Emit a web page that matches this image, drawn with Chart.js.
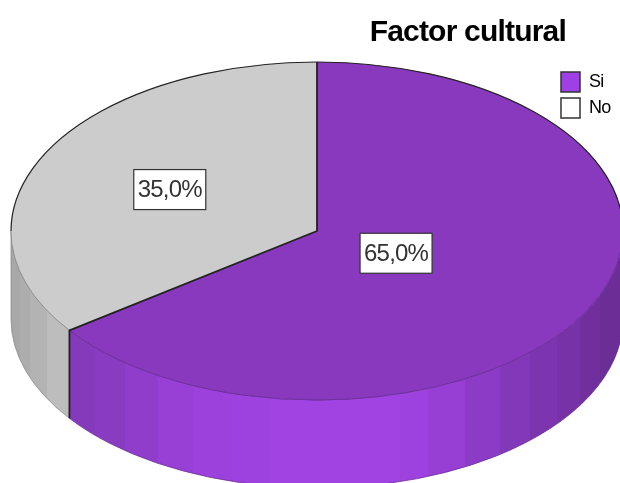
<!DOCTYPE html>
<html>
<head>
<meta charset="utf-8">
<style>
  html, body { margin: 0; padding: 0; background: #fff; }
  canvas { display: block; }
</style>
<script src="https://cdn.jsdelivr.net/npm/chart.js@4"></script>
</head>
<body>
<canvas id="pie" width="620" height="483"></canvas>
<script>
const categories = ["Si", "No"];
const values = [65, 35];
const chartTitle = "Factor cultural";

const topColors = ["#8839bd", "#cccccc"];
const swatchColors = ["#9f40e6", "#ffffff"];
const font = "Liberation Sans, Arial, sans-serif";

// Ellipse of the top face, and how far the side wall drops below it
const pie = { cx: 317, cy: 231, rx: 306, ry: 169, depth: 88 };

// How far out along the slice the percent box sits (0 centre, 1 rim)
const labelReach = [0.29, 0.54];

// Side wall shading, [from x, to x, colour]
const wallBands = [
  [
    [70, 95, "#8539bb"], [95, 125, "#893bc1"], [125, 158, "#903dcb"],
    [158, 193, "#983fd6"], [193, 232, "#9c41dc"], [232, 270, "#9e42df"],
    [270, 400, "#a043e2"], [400, 428, "#9e42df"], [428, 465, "#973fd5"],
    [465, 500, "#8c3bc6"], [500, 530, "#8238b8"], [530, 557, "#7c35ae"],
    [557, 580, "#7632a6"], [580, 600, "#712f9e"], [600, 625, "#6b2d96"]
  ],
  [
    [10, 20, "#a8a8a8"], [20, 30, "#adadad"], [30, 47, "#b3b3b3"], [47, 71, "#bdbdbd"]
  ]
];
const rimColors = ["#6a2c96", "#8a8a8a"];

function bandGradient(ctx, bands) {
  const x0 = bands[0][0];
  const x1 = bands[bands.length - 1][1];
  const grad = ctx.createLinearGradient(x0, 0, x1, 0);
  for (const [from, to, color] of bands) {
    grad.addColorStop((from - x0) / (x1 - x0), color);
    grad.addColorStop((to - x0) / (x1 - x0), color);
  }
  return grad;
}

const pie3d = {
  id: "pie3d",
  afterLayout(chart) {
    // Title and legend sit over the pie, not beside it
    chart.titleBlock.right = 566;
    const legend = chart.legend;
    legend.left = 555;
    legend.right = 620;
    legend.top = 66;
    legend.bottom = 125;
  },
  beforeDraw(chart) {
    // The reference text is tall and tight
    chart.ctx.letterSpacing = "-0.8px";
  },
  beforeDatasetsDraw(chart) {
    const ctx = chart.ctx;
    const arcs = chart.getDatasetMeta(0).data;

    arcs.forEach((arc, i) => {
      // only the front half of the wall shows
      const from = Math.max(arc.startAngle, 0);
      const to = Math.min(arc.endAngle, Math.PI);
      if (to <= from) return;
      ctx.beginPath();
      ctx.ellipse(pie.cx, pie.cy, pie.rx, pie.ry, 0, from, to);
      ctx.ellipse(pie.cx, pie.cy + pie.depth, pie.rx, pie.ry, 0, to, from, true);
      ctx.closePath();
      ctx.fillStyle = bandGradient(ctx, wallBands[i]);
      ctx.fill();
      ctx.strokeStyle = rimColors[i];
      ctx.lineWidth = 0.8;
      ctx.stroke();
    });

    // Squash the library's round pie onto the top face
    const first = arcs[0];
    ctx.save();
    ctx.translate(pie.cx, pie.cy);
    ctx.scale(pie.rx / first.outerRadius, pie.ry / first.outerRadius);
    ctx.translate(-first.x, -first.y);
  },
  afterDatasetsDraw(chart) {
    const ctx = chart.ctx;
    ctx.restore();
    const arcs = chart.getDatasetMeta(0).data;
    const joint = arcs[0].endAngle;
    const jointX = pie.cx + pie.rx * Math.cos(joint);
    const jointY = pie.cy + pie.ry * Math.sin(joint);

    // Thin rim where the front of the top face meets the wall
    ctx.lineWidth = 0.8;
    ctx.strokeStyle = rimColors[0];
    ctx.beginPath();
    ctx.ellipse(pie.cx, pie.cy, pie.rx, pie.ry, 0, 0, joint);
    ctx.stroke();
    ctx.strokeStyle = rimColors[1];
    ctx.beginPath();
    ctx.ellipse(pie.cx, pie.cy, pie.rx, pie.ry, 0, joint, Math.PI);
    ctx.stroke();

    // Back rim and slice edges
    ctx.strokeStyle = "#222222";
    ctx.lineWidth = 1.2;
    ctx.beginPath();
    ctx.ellipse(pie.cx, pie.cy, pie.rx, pie.ry, 0, Math.PI, 2 * Math.PI);
    ctx.stroke();
    ctx.lineWidth = 1.8;
    ctx.beginPath();
    ctx.moveTo(pie.cx, pie.cy - pie.ry);
    ctx.lineTo(pie.cx, pie.cy);
    ctx.lineTo(jointX, jointY);
    ctx.lineTo(jointX, jointY + pie.depth);
    ctx.stroke();

    // Percent boxes
    const total = values.reduce((a, b) => a + b, 0);
    ctx.font = "24px " + font;
    ctx.textAlign = "center";
    ctx.textBaseline = "middle";
    arcs.forEach((arc, i) => {
      const mid = (arc.startAngle + arc.endAngle) / 2;
      const x = pie.cx + labelReach[i] * pie.rx * Math.cos(mid);
      const y = pie.cy + labelReach[i] * pie.ry * Math.sin(mid);
      const text = (values[i] / total * 100).toFixed(1).replace(".", ",") + "%";
      ctx.fillStyle = "#ffffff";
      ctx.strokeStyle = "#333333";
      ctx.lineWidth = 1.2;
      ctx.fillRect(x - 36, y - 20, 72, 40);
      ctx.strokeRect(x - 36, y - 20, 72, 40);
      ctx.fillStyle = "#333333";
      ctx.fillText(text, x, y + 1);
    });
  }
};

new Chart(document.getElementById("pie"), {
  type: "pie",
  data: {
    labels: categories,
    datasets: [{
      data: values,
      backgroundColor: topColors,
      borderWidth: 0,
      clip: false
    }]
  },
  options: {
    responsive: false,
    animation: false,
    events: [],
    plugins: {
      title: {
        display: true,
        text: chartTitle,
        align: "end",
        color: "#000000",
        font: { family: font, size: 30, weight: "bold" },
        padding: { top: 15, bottom: 4 }
      },
      legend: {
        position: "right",
        align: "start",
        labels: {
          boxWidth: 19,
          boxHeight: 20,
          padding: 6,
          color: "#333333",
          font: { family: font, size: 18 },
          generateLabels: () => categories.map((name, i) => ({
            text: name,
            fillStyle: swatchColors[i],
            strokeStyle: "#333333",
            lineWidth: 1.5,
            index: i
          }))
        }
      },
      tooltip: { enabled: false }
    }
  },
  plugins: [pie3d]
});
</script>
</body>
</html>
